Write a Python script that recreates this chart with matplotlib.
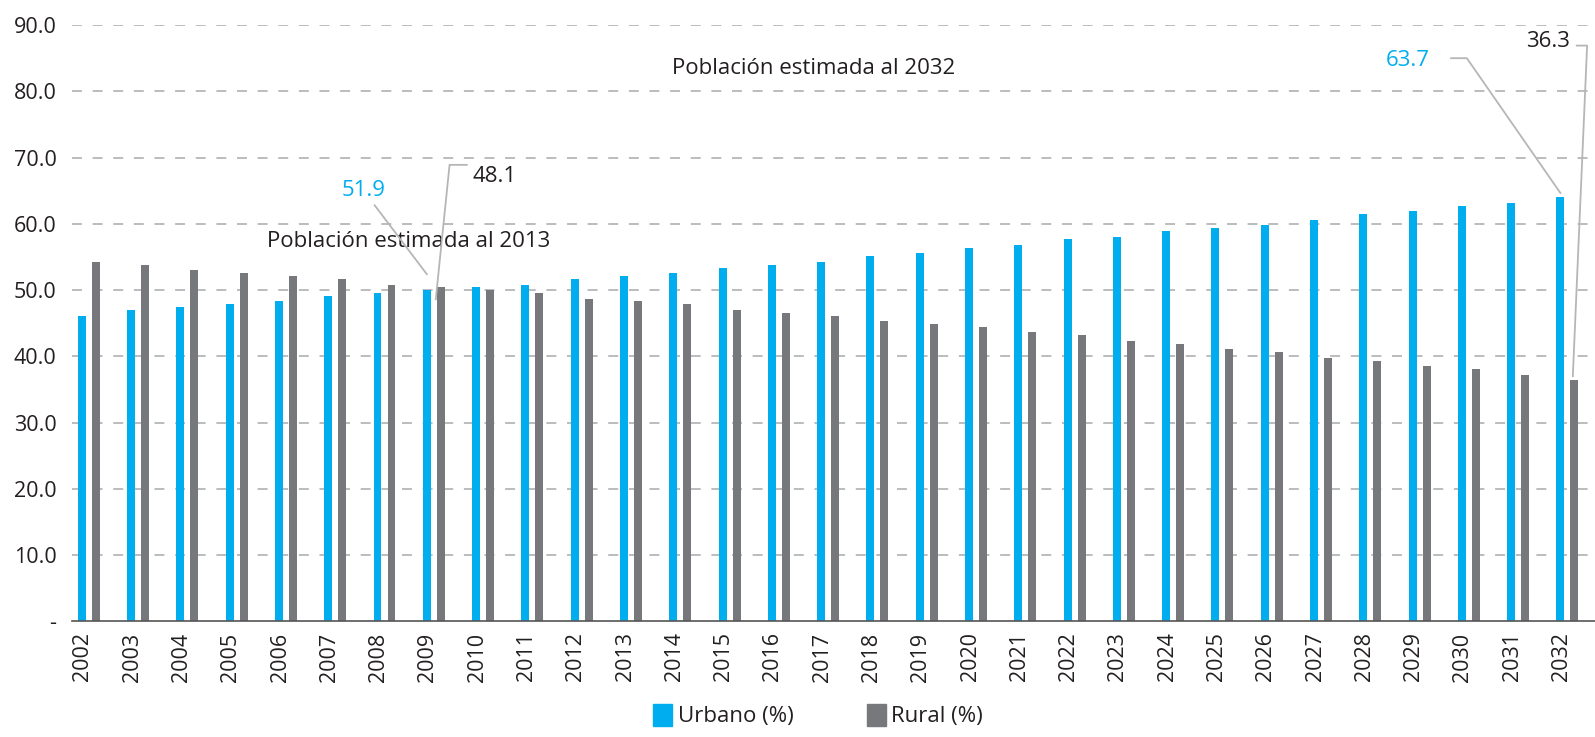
import numpy as np
import matplotlib.pyplot as plt
from matplotlib.patches import Patch

plt.rcParams['font.family'] = ['Open Sans', 'DejaVu Sans']

years = [str(y) for y in range(2002, 2033)]
urbano = [46.1, 47.0, 47.4, 47.9, 48.3, 49.1, 49.5, 50.0, 50.5, 50.8,
          51.7, 52.1, 52.6, 53.3, 53.8, 54.2, 55.1, 55.6, 56.3, 56.8,
          57.7, 58.0, 58.9, 59.4, 59.8, 60.6, 61.5, 61.9, 62.7, 63.1, 64.0]
rural = [54.2, 53.8, 53.0, 52.6, 52.1, 51.7, 50.8, 50.5, 50.0, 49.5,
         48.6, 48.3, 47.9, 47.0, 46.5, 46.1, 45.3, 44.9, 44.4, 43.7,
         43.2, 42.3, 41.8, 41.1, 40.6, 39.7, 39.3, 38.5, 38.1, 37.2, 36.4]
y_ticks = [0, 10, 20, 30, 40, 50, 60, 70, 80, 90]
y_labels = ['-', '10.0', '20.0', '30.0', '40.0', '50.0', '60.0', '70.0', '80.0', '90.0']

c_urb = '#00AEEF'
c_rur = '#77787B'
c_line = '#B5B6B8'
c_txt = '#231F20'

fig = plt.figure(figsize=(15.95, 7.37), dpi=100)
ax = fig.add_axes([0.045, 0.157, 0.955, 0.809])

x = np.arange(len(years))
w = 0.162
off = 0.142
ax.bar(x - off, urbano, width=w, color=c_urb, zorder=3)
ax.bar(x + off, rural, width=w, color=c_rur, zorder=3)

ax.set_xlim(-0.345, 30.56)
ax.set_ylim(0, 90)
ax.set_yticks(y_ticks)
ax.set_yticklabels(y_labels)
ax.set_xticks(x - 0.12)
ax.set_xticklabels(years, rotation=90)
ax.tick_params(length=0, labelsize=15.5, colors=c_txt)
ax.tick_params(axis='y', pad=11)
ax.tick_params(axis='x', pad=8)

for s in ['top', 'right', 'left']:
    ax.spines[s].set_visible(False)
ax.spines['bottom'].set_color('#555555')
ax.spines['bottom'].set_linewidth(1.2)
ax.spines['bottom'].set_zorder(4)

for t in y_ticks[1:]:
    ax.axhline(t, color='#A7A9AC', lw=1.1, linestyle=(0, (6.5, 7)), zorder=1)

# leader lines
i09 = years.index('2009')
i32 = years.index('2032')
lk = dict(color=c_line, lw=1.3, clip_on=False, zorder=5)
ax.plot([5.80, i09 - off], [62.8, urbano[i09] + 2.4], **lk)
ax.plot([7.67, 7.32, i09 + 0.04], [68.9, 68.9, 48.6], **lk)
ax.plot([27.64, 27.96, i32 - off], [85.0, 85.0, urbano[i32] + 0.65], **lk)
ax.plot([30.19, 30.40, i32 + 0.11], [86.9, 86.9, rural[i32] + 0.6], **lk)

fs = 16
ax.text(5.58, 65.1, '51.9', color=c_urb, fontsize=fs, ha='center', va='center')
ax.text(7.79, 67.1, '48.1', color=c_txt, fontsize=fs, ha='left', va='center')
ax.text(27.21, 84.7, '63.7', color=c_urb, fontsize=fs, ha='right', va='center')
ax.text(30.05, 87.5, '36.3', color=c_txt, fontsize=fs, ha='right', va='center', clip_on=False)
ax.text(11.83, 83.4, 'Población estimada al 2032', color=c_txt, fontsize=fs, ha='left', va='center')
ax.text(3.61, 57.3, 'Población estimada al 2013', color=c_txt, fontsize=fs, ha='left', va='center')

handles = [Patch(color=c_urb, label='Urbano (%)'), Patch(color=c_rur, label='Rural (%)')]
fig.legend(handles=handles, loc='lower center', ncol=2, frameon=False,
           fontsize=fs, handlelength=0.85, handleheight=1.15, handletextpad=0.25,
           columnspacing=3.3, bbox_to_anchor=(0.513, -0.014), labelcolor=c_txt)

fig.savefig('out.png', dpi=100)
